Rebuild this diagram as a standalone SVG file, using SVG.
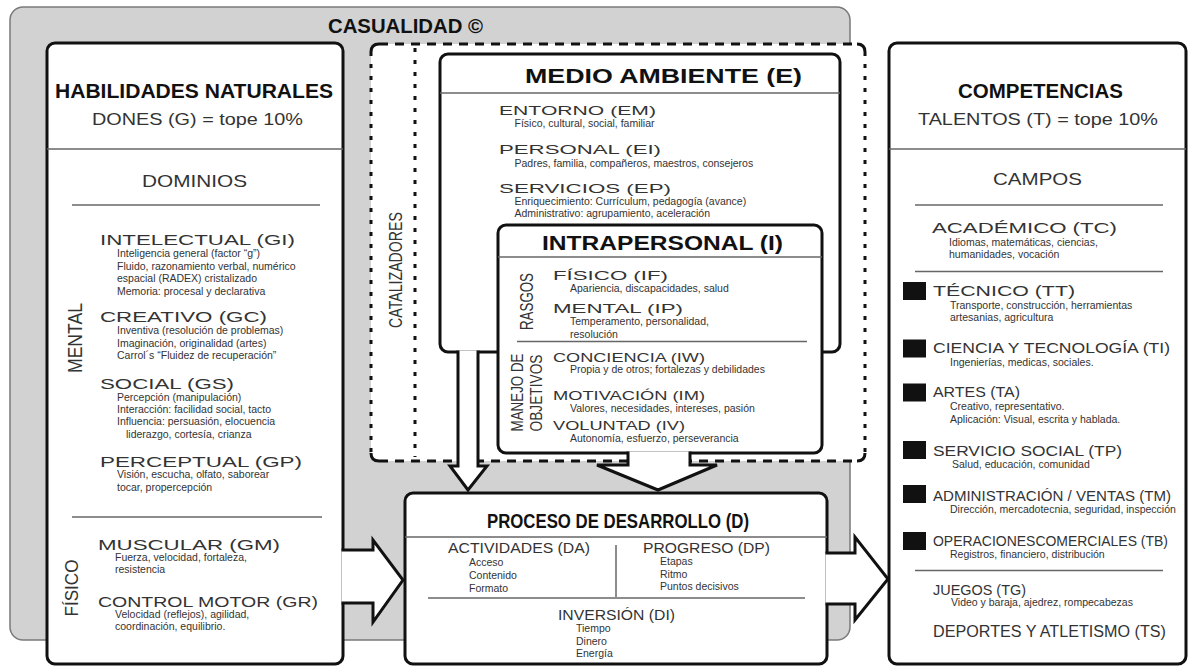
<svg xmlns="http://www.w3.org/2000/svg" width="1188" height="666" viewBox="0 0 1188 666">
<style>
text{font-family:"Liberation Sans",Arial,sans-serif;}
.box{fill:#fff;stroke:#111;stroke-width:3;}
.div{stroke:#666;stroke-width:1.5;fill:none;}
.ttl{font-weight:bold;fill:#111;}
.h{font-size:14px;fill:#333;}
.h14{font-size:13px;fill:#333;}
.sub{font-size:17px;fill:#333;}
.s{font-size:10.5px;fill:#333;}
.v{fill:#333;}
.arrow{fill:#fff;stroke:#111;stroke-width:3;stroke-linejoin:miter;}
.dh{stroke:#111;stroke-width:3;stroke-dasharray:9 7;fill:none;}
.dv{stroke:#111;stroke-width:3;stroke-dasharray:4 8;fill:none;}
</style>
<g id="casualidad">
<rect x="10" y="7" width="840" height="633" rx="13" fill="#d2d2d2" stroke="#7a7a7a" stroke-width="1.5"/>
<text x="328" y="33" class="ttl" font-size="20" textLength="155" lengthAdjust="spacingAndGlyphs">CASUALIDAD ©</text>
</g>
<g id="habilidades">
<rect class="box" x="47" y="43" width="296" height="621" rx="8"/>
<text x="55" y="98" class="ttl" font-size="20" textLength="278" lengthAdjust="spacingAndGlyphs">HABILIDADES NATURALES</text>
<text x="92" y="125" class="sub" textLength="211" lengthAdjust="spacingAndGlyphs">DONES (G) = tope 10%</text>
<line class="div" x1="47" y1="149" x2="343" y2="149"/>
<text x="142" y="187" class="sub" textLength="105" lengthAdjust="spacingAndGlyphs">DOMINIOS</text>
<line class="div" x1="72" y1="205" x2="320" y2="205"/>
<text class="v" font-size="21" transform="translate(82,338) rotate(-90)" text-anchor="middle" textLength="70" lengthAdjust="spacingAndGlyphs">MENTAL</text>
<text x="100" y="245" class="h" textLength="195" lengthAdjust="spacingAndGlyphs">INTELECTUAL (GI)</text>
<text class="s" x="117" y="257">Inteligencia general (factor “g”)</text>
<text class="s" x="117" y="269.5">Fluido, razonamiento verbal, numérico</text>
<text class="s" x="117" y="282">espacial (RADEX) cristalizado</text>
<text class="s" x="117" y="294.5">Memoria: procesal y declarativa</text>
<text x="100" y="322" class="h" textLength="167" lengthAdjust="spacingAndGlyphs">CREATIVO (GC)</text>
<text class="s" x="117" y="334">Inventiva (resolución de problemas)</text>
<text class="s" x="117" y="346.5">Imaginación, originalidad (artes)</text>
<text class="s" x="117" y="359">Carrol´s “Fluidez de recuperación”</text>
<text x="100" y="388.5" class="h" textLength="134" lengthAdjust="spacingAndGlyphs">SOCIAL (GS)</text>
<text class="s" x="117" y="401">Percepción (manipulación)</text>
<text class="s" x="117" y="413">Interacción: facilidad social, tacto</text>
<text class="s" x="117" y="425">Influencia: persuasión, elocuencia</text>
<text class="s" x="126" y="437.5">liderazgo, cortesía, crianza</text>
<text x="100" y="467" class="h" textLength="202" lengthAdjust="spacingAndGlyphs">PERCEPTUAL (GP)</text>
<text class="s" x="117" y="478">Visión, escucha, olfato, saborear</text>
<text class="s" x="117" y="490.5">tocar, propercepción</text>
<line class="div" x1="72" y1="517" x2="322" y2="517"/>
<text class="v" font-size="19" transform="translate(78,588) rotate(-90)" text-anchor="middle" textLength="57" lengthAdjust="spacingAndGlyphs">FÍSICO</text>
<text x="98" y="550" class="h" textLength="182" lengthAdjust="spacingAndGlyphs">MUSCULAR (GM)</text>
<text class="s" x="115" y="561">Fuerza, velocidad, fortaleza,</text>
<text class="s" x="115" y="572.5">resistencia</text>
<text x="98" y="606.5" class="h" textLength="220" lengthAdjust="spacingAndGlyphs">CONTROL MOTOR (GR)</text>
<text class="s" x="115" y="618">Velocidad (reflejos), agilidad,</text>
<text class="s" x="115" y="630">coordinación, equilibrio.</text>
</g>
<g id="proceso">
<rect class="box" x="405" y="493" width="422" height="171" rx="8"/>
<text x="487" y="528" class="ttl" font-size="20" textLength="262" lengthAdjust="spacingAndGlyphs">PROCESO DE DESARROLLO (D)</text>
<line class="div" x1="405" y1="537" x2="827" y2="537"/>
<text x="448" y="553" class="h" textLength="142" lengthAdjust="spacingAndGlyphs">ACTIVIDADES (DA)</text>
<text class="s" x="469" y="566">Acceso</text>
<text class="s" x="469" y="579">Contenido</text>
<text class="s" x="469" y="591.5">Formato</text>
<line class="div" x1="616" y1="545" x2="616" y2="597"/>
<text x="643" y="553" class="h" textLength="127" lengthAdjust="spacingAndGlyphs">PROGRESO (DP)</text>
<text class="s" x="660" y="565">Etapas</text>
<text class="s" x="660" y="577.5">Ritmo</text>
<text class="s" x="660" y="590">Puntos decisivos</text>
<line class="div" x1="428" y1="598" x2="805" y2="598"/>
<text x="558" y="620" class="h" textLength="117" lengthAdjust="spacingAndGlyphs">INVERSIÓN (DI)</text>
<text class="s" x="576" y="632">Tiempo</text>
<text class="s" x="576" y="644.5">Dinero</text>
<text class="s" x="576" y="656.5">Energía</text>
</g>
<g id="competencias">
<rect class="box" x="889" y="43" width="297" height="621" rx="8"/>
<text x="958" y="98" class="ttl" font-size="20" textLength="165" lengthAdjust="spacingAndGlyphs">COMPETENCIAS</text>
<text x="918" y="125" class="sub" textLength="240" lengthAdjust="spacingAndGlyphs">TALENTOS (T) = tope 10%</text>
<line class="div" x1="889" y1="149" x2="1186" y2="149"/>
<text x="993" y="185" class="sub" textLength="89" lengthAdjust="spacingAndGlyphs">CAMPOS</text>
<line class="div" x1="915" y1="205" x2="1163" y2="205"/>
<text x="932" y="233" class="h" textLength="185" lengthAdjust="spacingAndGlyphs">ACADÉMICO (TC)</text>
<text class="s" x="949" y="245.5">Idiomas, matemáticas, ciencias,</text>
<text class="s" x="949" y="257.5">humanidades, vocación</text>
<line class="div" x1="915" y1="271.5" x2="1163" y2="271.5"/>
<g fill="#111">
<rect x="903" y="282" width="23" height="18"/>
<rect x="903" y="339.5" width="23" height="18"/>
<rect x="903" y="383.5" width="23" height="18"/>
<rect x="903" y="441" width="23" height="18"/>
<rect x="903" y="485" width="23" height="18"/>
<rect x="903" y="532" width="23" height="18"/>
</g>
<text x="933" y="296" class="h" textLength="142" lengthAdjust="spacingAndGlyphs">TÉCNICO (TT)</text>
<text class="s" x="950" y="309">Transporte, construcción, herramientas</text>
<text class="s" x="950" y="321">artesanias, agricultura</text>
<text x="933" y="353" class="h" textLength="237" lengthAdjust="spacingAndGlyphs">CIENCIA Y TECNOLOGÍA (TI)</text>
<text class="s" x="950" y="365.5">Ingenierías, medicas, sociales.</text>
<text x="933" y="397" class="h" textLength="87" lengthAdjust="spacingAndGlyphs">ARTES (TA)</text>
<text class="s" x="950" y="410">Creativo, representativo.</text>
<text class="s" x="950" y="422.5">Aplicación: Visual, escrita y hablada.</text>
<text x="933" y="456" class="h" textLength="189" lengthAdjust="spacingAndGlyphs">SERVICIO SOCIAL (TP)</text>
<text class="s" x="952" y="468">Salud, educación, comunidad</text>
<text x="933" y="501" class="h" textLength="238" lengthAdjust="spacingAndGlyphs">ADMINISTRACIÓN / VENTAS (TM)</text>
<text class="s" x="950" y="513">Dirección, mercadotecnia, seguridad, inspección</text>
<text x="933" y="546" class="h" textLength="235" lengthAdjust="spacingAndGlyphs">OPERACIONESCOMERCIALES (TB)</text>
<text class="s" x="950" y="557.5">Registros, financiero, distribución</text>
<line class="div" x1="915" y1="570.5" x2="1163" y2="570.5"/>
<text x="933" y="595" font-size="15" fill="#333" textLength="93" lengthAdjust="spacingAndGlyphs">JUEGOS (TG)</text>
<text class="s" x="951" y="606">Video y baraja, ajedrez, rompecabezas</text>
<text x="933" y="637" font-size="16" fill="#333" textLength="233" lengthAdjust="spacingAndGlyphs">DEPORTES Y ATLETISMO (TS)</text>
</g>
<g id="catalizadores">
<rect x="371" y="44" width="494" height="417" rx="8" fill="#fff"/>
<path class="dh" d="M379,44 H857 M379,461 H857"/>
<path class="dv" d="M371,52 V453 M865,52 V453 M415,48 V457"/>
<path d="M371,52 Q371,44 379,44 M857,44 Q865,44 865,52 M865,453 Q865,461 857,461 M379,461 Q371,461 371,453" fill="none" stroke="#111" stroke-width="3"/>
<text class="v" font-size="19" transform="translate(402,270) rotate(-90)" text-anchor="middle" textLength="116" lengthAdjust="spacingAndGlyphs">CATALIZADORES</text>
</g>
<g id="medio-ambiente">
<rect class="box" x="440" y="54" width="400" height="298" rx="8"/>
<text x="525" y="83" class="ttl" font-size="21" textLength="277" lengthAdjust="spacingAndGlyphs">MEDIO AMBIENTE (E)</text>
<line class="div" x1="440" y1="93" x2="840" y2="93"/>
<text x="499" y="115" class="h14" textLength="157" lengthAdjust="spacingAndGlyphs">ENTORNO (EM)</text>
<text class="s" x="514.5" y="127">Físico, cultural, social, familiar</text>
<text x="499" y="154" class="h14" textLength="162" lengthAdjust="spacingAndGlyphs">PERSONAL (EI)</text>
<text class="s" x="514.5" y="166.5">Padres, familia, compañeros, maestros, consejeros</text>
<text x="499" y="193" class="h14" textLength="172" lengthAdjust="spacingAndGlyphs">SERVICIOS (EP)</text>
<text class="s" x="514.5" y="205">Enriquecimiento: Currículum, pedagogía (avance)</text>
<text class="s" x="514.5" y="217">Administrativo: agrupamiento, aceleración</text>
</g>
<g id="intrapersonal">
<rect class="box" x="498" y="225" width="324" height="228" rx="8"/>
<text x="542" y="250" class="ttl" font-size="21" textLength="241" lengthAdjust="spacingAndGlyphs">INTRAPERSONAL (I)</text>
<line class="div" x1="498" y1="257" x2="822" y2="257"/>
<text class="v" font-size="18" transform="translate(533,301.5) rotate(-90)" text-anchor="middle" textLength="57" lengthAdjust="spacingAndGlyphs">RASGOS</text>
<text x="553" y="280" class="h14" textLength="115" lengthAdjust="spacingAndGlyphs">FÍSICO (IF)</text>
<text class="s" x="570" y="291.5">Apariencia, discapacidades, salud</text>
<text x="553" y="313" class="h14" textLength="130" lengthAdjust="spacingAndGlyphs">MENTAL (IP)</text>
<text class="s" x="570" y="325">Temperamento, personalidad,</text>
<text class="s" x="570" y="337.5">resolución</text>
<line class="div" x1="517" y1="341.5" x2="807" y2="341.5"/>
<text class="v" font-size="16" transform="translate(523,431.5) rotate(-90)" textLength="78" lengthAdjust="spacingAndGlyphs">MANEJO DE</text>
<text class="v" font-size="16" transform="translate(542,431.5) rotate(-90)" textLength="77" lengthAdjust="spacingAndGlyphs">OBJETIVOS</text>
<text x="553" y="361.5" class="h14" textLength="152" lengthAdjust="spacingAndGlyphs">CONCIENCIA (IW)</text>
<text class="s" x="570" y="373">Propia y de otros; fortalezas y debilidades</text>
<text x="553" y="400" class="h14" textLength="152" lengthAdjust="spacingAndGlyphs">MOTIVACIÓN (IM)</text>
<text class="s" x="570" y="411.5">Valores, necesidades, intereses, pasión</text>
<text x="553" y="430" class="h14" textLength="132" lengthAdjust="spacingAndGlyphs">VOLUNTAD (IV)</text>
<text class="s" x="570" y="441.5">Autonomía, esfuerzo, perseverancia</text>
</g>
<g id="connectors">
<path class="arrow" d="M341.5,550 H373 V540 L403,580 L373,622 V603 H341.5"/>
<path class="arrow" d="M825.5,553 H855 V537 L888,579 L855,620 V604 H825.5"/>
<path class="arrow" d="M458,350.5 V466 H450 L468,490 L487,466 H478 V350.5"/>
<path class="arrow" d="M628,451.5 V465 H597 L658,490 L717,465 H690 V451.5"/>
</g>
</svg>
